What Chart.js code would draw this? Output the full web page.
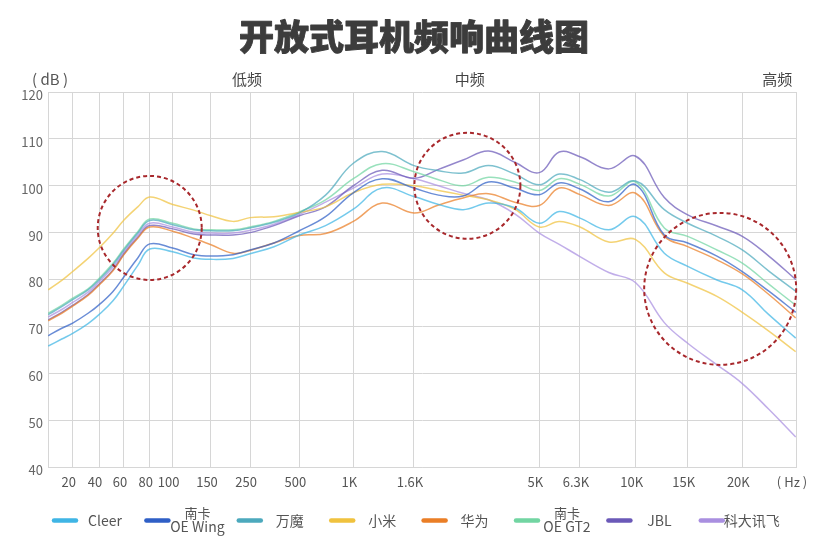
<!DOCTYPE html>
<html>
<head>
<meta charset="utf-8">
<script src="https://cdn.jsdelivr.net/npm/chart.js@4.4.1/dist/chart.umd.min.js"></script>
<style>
  html, body { margin: 0; padding: 0; background: #fff; }
</style>
</head>
<body>
<canvas id="chartFR" width="830" height="545"></canvas>
<script>
// frequencies (Hz) the curves were read at
const freqs = [10.5, 15, 20, 30, 40, 50, 60, 70, 80, 100, 125, 150, 200, 250, 350, 500, 700,
  1000, 1250, 1600, 2000, 2500, 3150, 4000,
  5000, 5600, 6300, 8000, 10000, 12500, 15000, 17500, 20000, 23000, 26500];

// dB values per headphone
const cleer = [65.8, 67.3, 68.5, 70.6, 72.5, 75.4, 78.7, 83, 86.5, 85.9, 84.6, 84.3, 84.5, 85.5, 87, 89.5, 91.5,
  95, 99.5, 97.7, 96, 94.9, 96.3, 95.3,
  92, 94.5, 93.1, 90.6, 93.4, 85.6, 82.8, 79.9, 77.8, 72.5, 67.5];
const oeWing = [68, 69.6, 70.7, 72.8, 74.6, 77.4, 80.6, 84.6, 87.6, 86.7, 85.3, 85, 85.3, 86.3, 87.8, 90.4, 93.4,
  98.5, 101.5, 99.5, 98, 97.8, 100.8, 99.5,
  98.1, 100.6, 99.3, 96.6, 100.2, 89.5, 87.8, 85, 81.7, 77.5, 73];
const wanmo = [72.5, 74.2, 75.7, 77.8, 79.9, 83.1, 86.3, 89.9, 92.6, 91.7, 90.6, 90.4, 90.4, 91, 92.2, 94.2, 98,
  104.8, 107.3, 104.3, 103.2, 102.7, 104.3, 102.5,
  100.2, 102.5, 101.3, 98.6, 101, 94.9, 92, 89.2, 86.3, 81.8, 77.5];
const xiaomi = [77.8, 79.8, 81.7, 84.5, 86.7, 89.8, 92.7, 95.5, 97.6, 96, 94.8, 93.6, 92.4, 93.2, 93.4, 94.3, 95.5,
  98.5, 100.3, 100, 99, 98, 97, 95,
  91.2, 92.4, 91.2, 88, 88.5, 81.4, 79.2, 76.4, 73, 69, 64.6];
const huawei = [71.2, 72.8, 74.3, 76.6, 78.8, 81.8, 85.3, 88.8, 91.2, 90.3, 88.8, 87.4, 85.6, 86.2, 87.8, 89.4, 89.8,
  92.4, 96.3, 94.2, 95.9, 97.4, 98.3, 96.5,
  95.8, 99.5, 98.1, 95.8, 98.4, 89.2, 87, 84.2, 81.2, 76.8, 71.8];
const oeGt2 = [72.8, 74.5, 76, 78, 80.2, 83.4, 86.6, 90.2, 92.9, 92, 90.8, 90.6, 90.6, 91.2, 92.4, 94.4, 97,
  101.5, 104.7, 103, 101.3, 100, 101.8, 100.8,
  99, 101.5, 100.3, 97.8, 100.8, 91, 89.2, 86.3, 83.5, 79, 74.5];
const jbl = [71.4, 73, 74.5, 76.8, 79, 82, 85.5, 89, 91.5, 90.8, 89.7, 89.5, 89.5, 90, 91.5, 93.6, 95.5,
  100, 103.3, 101.6, 103.5, 105.5, 107.4, 105,
  102.8, 107.2, 106.2, 103.6, 106.3, 97.5, 93.8, 91.4, 89.2, 85, 80];
const iflytek = [72, 73.6, 75.1, 77.3, 79.5, 82.6, 85.9, 89.5, 92, 91.2, 90.1, 89.9, 89.9, 90.5, 91.8, 93.9, 96.5,
  99.5, 102.5, 101.5, 100, 98.4, 97, 94,
  89.9, 87.5, 84.9, 81.5, 79.3, 70.8, 66.4, 61.8, 57.8, 52.3, 46.4];

const seriesNames = ["Cleer", "南卡\nOE Wing", "万魔", "小米", "华为", "南卡\nOE GT2", "JBL", "科大讯飞"];
const seriesValues = [cleer, oeWing, wanmo, xiaomi, huawei, oeGt2, jbl, iflytek];
const seriesColors = ["#3fb5e5", "#2f5fc6", "#4ca9bd", "#f0c23e", "#ea7e26", "#72d5a2", "#6b59b8", "#a98fe0"];

// x axis: labelled frequencies and where they sit on the (0-100) axis
const tickFreqs = [20, 40, 60, 80, 100, 150, 250, 500, 1000, 1600, 5000, 6300, 10000, 15000, 20000];
const tickLabels = ["20", "40", "60", "80", "100", "150", "250", "500", "1K", "1.6K", "5K", "6.3K", "10K", "15K", "20K"];
const tickPos = [3.3, 6.82, 10.16, 13.6, 16.67, 21.79, 27.01, 33.6, 40.82, 48.93, 65.68, 71.12, 78.57, 85.52, 92.82];

const bandNames = ["低频", "中频", "高频"];
const bandPos = [26.6, 56.4, 97.5];

// dotted circles
const circleFreqs = [80, 2600, 17800];
const circleDb = [91, 100, 78];
const circleRadius = [52, 53, 76];

const titleText = "开放式耳机频响曲线图";

const FONT = "'Noto Sans CJK SC', 'Noto Sans', sans-serif";
Chart.defaults.font.family = FONT;

function freqToPos(f) {
  let i = 0;
  if (f >= tickFreqs[tickFreqs.length - 1]) i = tickFreqs.length - 2;
  else if (f > tickFreqs[0]) { while (f > tickFreqs[i + 1]) i++; }
  const a = tickFreqs[i], b = tickFreqs[i + 1];
  return tickPos[i] + (tickPos[i + 1] - tickPos[i]) * Math.log(f / a) / Math.log(b / a);
}

function fade(hex, a) {
  const n = parseInt(hex.slice(1), 16);
  return "rgba(" + (n >> 16) + "," + ((n >> 8) & 255) + "," + (n & 255) + "," + a + ")";
}

const axisLabels = [""].concat(tickLabels, ["( Hz )"]);

const decorations = {
  id: "decorations",
  afterDatasetsDraw(chart) {
    const { ctx, scales: { x, y } } = chart;
    ctx.save();
    ctx.strokeStyle = "#a8282c";
    ctx.lineWidth = 2;
    ctx.setLineDash([4, 3]);
    circleFreqs.forEach((f, i) => {
      ctx.beginPath();
      ctx.arc(x.getPixelForValue(freqToPos(f)), y.getPixelForValue(circleDb[i]), circleRadius[i], 0, Math.PI * 2);
      ctx.stroke();
    });
    ctx.restore();
  },
  afterDraw(chart) {
    const { ctx, chartArea } = chart;
    ctx.save();
    ctx.textAlign = "center";
    ctx.textBaseline = "middle";

    // title, stroked a little to get the heavy look
    ctx.font = "900 35px " + FONT;
    ctx.fillStyle = "#3c3c3c";
    ctx.strokeStyle = "#3c3c3c";
    ctx.lineWidth = 0.9;
    ctx.lineJoin = "round";
    ctx.fillText(titleText, 414, 37);
    ctx.strokeText(titleText, 414, 37);

    // (dB) unit
    ctx.fillStyle = "#555";
    ctx.font = "15px " + FONT;
    ctx.fillText("( dB )", 50, 79.5);

    // legend
    const ly = chartArea.bottom + 53.5;
    seriesNames.forEach((name, i) => {
      const sx = chartArea.left + 4 + i * 92.4;
      ctx.strokeStyle = seriesColors[i];
      ctx.lineWidth = 4.5;
      ctx.lineCap = "round";
      ctx.beginPath();
      ctx.moveTo(sx + 2, ly);
      ctx.lineTo(sx + 24, ly);
      ctx.stroke();
      const tx = sx + 53;
      const lines = name.split("\n");
      ctx.fillStyle = "#555";
      if (lines.length === 1) {
        ctx.font = "14px " + FONT;
        ctx.fillText(lines[0], tx, ly);
      } else {
        ctx.font = "13px " + FONT;
        ctx.fillText(lines[0], tx, ly - 7.5);
        ctx.font = "14px " + FONT;
        ctx.fillText(lines[1], tx, ly + 6);
      }
    });
    ctx.restore();
  }
};

const chartFR = document.getElementById("chartFR");
new Chart(chartFR, {
  type: "line",
  data: {
    datasets: seriesValues.map((vals, i) => ({
      label: seriesNames[i],
      data: freqs.map((f, j) => ({ x: freqToPos(f), y: vals[j] })),
      borderColor: fade(seriesColors[i], 0.72),
      borderWidth: 1.5,
      pointRadius: 0,
      tension: 0.4,
      fill: false,
    })),
  },
  options: {
    responsive: false,
    animation: false,
    layout: { padding: { left: 0, right: 34, top: 57.8, bottom: 48 } },
    scales: {
      x: {
        type: "linear",
        min: 0,
        max: 100,
        afterBuildTicks: (s) => { s.ticks = [0].concat(tickPos, [100]).map((v) => ({ value: v })); },
        afterFit: (s) => { s.height = 30; },
        ticks: {
          autoSkip: false,
          maxRotation: 0,
          padding: 7,
          labelOffset: -4,
          color: "#555",
          font: { size: 13 },
          callback: (v, i) => axisLabels[i],
        },
        grid: { color: "#d6d6d6", drawTicks: false },
        border: { color: "#d6d6d6" },
      },
      xTop: {
        type: "linear",
        position: "top",
        min: 0,
        max: 100,
        afterBuildTicks: (s) => { s.ticks = bandPos.map((v) => ({ value: v })); },
        afterFit: (s) => { s.height = 34.2; },
        ticks: {
          autoSkip: false,
          maxRotation: 0,
          padding: 4,
          color: "#444",
          font: { size: 15 },
          callback: (v, i) => bandNames[i],
        },
        grid: { display: false, drawTicks: false },
        border: { display: false },
      },
      y: {
        min: 40,
        max: 120,
        afterFit: (s) => { s.width = 48; },
        ticks: { stepSize: 10, padding: 5, labelOffset: 3, color: "#666", font: { size: 13 } },
        grid: { color: "#d6d6d6", drawTicks: false },
        border: { color: "#d6d6d6" },
      },
    },
    plugins: {
      legend: { display: false },
      tooltip: { enabled: false },
      title: { display: false },
    },
  },
  plugins: [decorations],
});
</script>
</body>
</html>
